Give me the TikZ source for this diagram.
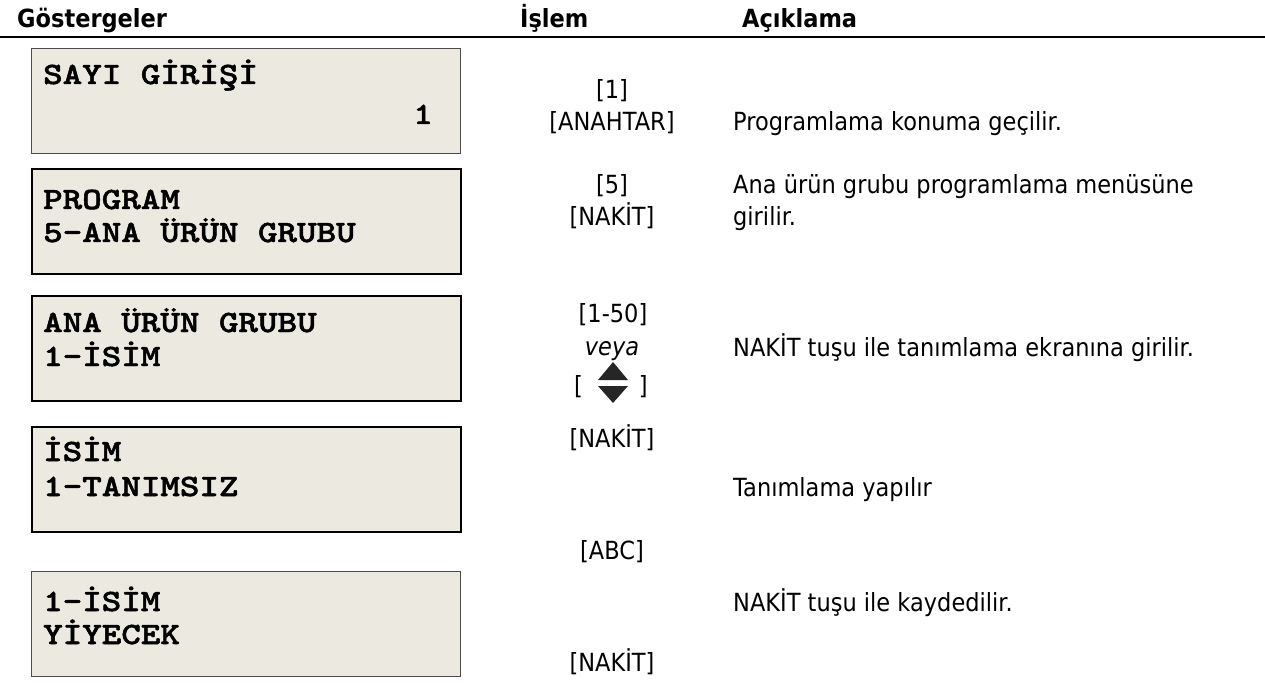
\documentclass[tikz,border=0pt]{standalone}
\usepackage{fontspec}
\setmainfont{DejaVu Sans}[FakeStretch=0.9]
\newfontfamily\lcdfont{lmmonolt10-bold.otf}[FakeStretch=1.2,FakeBold=1.6]
\definecolor{lcdfill}{RGB}{236,234,224}
\tikzset{
  lcdbox/.style={draw=black, line width=2.2bp, fill=lcdfill, minimum width=429bp, minimum height=105bp, anchor=north west, inner sep=0pt},
  lcdboxthin/.style={lcdbox, draw=black!70, line width=1.4bp},
  lcdtxt/.style={anchor=base west, inner sep=0pt, font=\lcdfont\fontsize{31bp}{36bp}\selectfont},
  hdr/.style={anchor=base west, inner sep=0pt, font=\bfseries\fontsize{25bp}{30bp}\selectfont},
  key/.style={anchor=base, inner sep=0pt, font=\fontsize{25bp}{30bp}\selectfont},
  desc/.style={anchor=base west, inner sep=0pt, font=\fontsize{25bp}{30bp}\selectfont},
  tri/.style={fill=black!85, draw=none}
}
\begin{document}
\begin{tikzpicture}[x=1bp,y=-1bp]
\useasboundingbox (0,0) rectangle (1265,686);
% header
\node[hdr] (h1) at (17,28) {Göstergeler};
\node[hdr] (h2) at (520,28) {İşlem};
\node[hdr] (h3) at (742,28) {Açıklama};
\coordinate (hl) at (0,37);
\coordinate (hr) at (1265,37);
\draw[line width=2.5bp] (hl) -- (hr);
% boxes
\node[lcdboxthin] (b1) at (31,48) {};
\node[lcdbox] (b2) at (31,168) {};
\node[lcdbox] (b3) at (31,295) {};
\node[lcdbox] (b4) at (31,426) {};
\node[lcdboxthin] (b5) at (31,571) {};
% box texts
\node[lcdtxt] (t1a) at (43,84) {SAYI GİRİŞİ};
\node[lcdtxt, anchor=base east] (t1b) at (433,124) {1};
\node[lcdtxt] (t2a) at (43,209) {PROGRAM};
\node[lcdtxt] (t2b) at (43,242) {5-ANA ÜRÜN GRUBU};
\node[lcdtxt] (t3a) at (43,332) {ANA ÜRÜN GRUBU};
\node[lcdtxt] (t3b) at (43,366) {1-İSİM};
\node[lcdtxt] (t4a) at (43,461) {İSİM};
\node[lcdtxt] (t4b) at (43,496) {1-TANIMSIZ};
\node[lcdtxt] (t5a) at (43,611) {1-İSİM};
\node[lcdtxt] (t5b) at (43,644) {YİYECEK};
% keys
\node[key] (k1a) at (612,99) {[1]};
\node[key] (k1b) at (612,131) {[ANAHTAR]};
\node[key] (k2a) at (612,194) {[5]};
\node[key] (k2b) at (612,226) {[NAKİT]};
\node[key] (k3a) at (613,322) {[1-50]};
\node[key, font=\itshape\fontsize{25bp}{30bp}\selectfont] (k3b) at (612,355) {veya};
\node[key] (k3c) at (611,394) {[\hspace{56bp}]};
\fill[tri] (598,380) -- (628,380) -- (613,362) -- cycle;
\fill[tri] (598,386) -- (628,386) -- (613,403) -- cycle;
\node[key] (k4a) at (612,447) {[NAKİT]};
\node[key] (k4b) at (612,559) {[ABC]};
\node[key] (k5a) at (612,671) {[NAKİT]};
% descriptions
\node[desc] (d1) at (733,131) {Programlama konuma geçilir.};
\node[desc] (d2a) at (733,194) {Ana ürün grubu programlama menüsüne};
\node[desc] (d2b) at (733,226) {girilir.};
\node[desc] (d3) at (733,356) {NAKİT tuşu ile tanımlama ekranına girilir.};
\node[desc] (d4) at (733,496) {Tanımlama yapılır};
\node[desc] (d5) at (733,611) {NAKİT tuşu ile kaydedilir.};
\end{tikzpicture}
\end{document}
